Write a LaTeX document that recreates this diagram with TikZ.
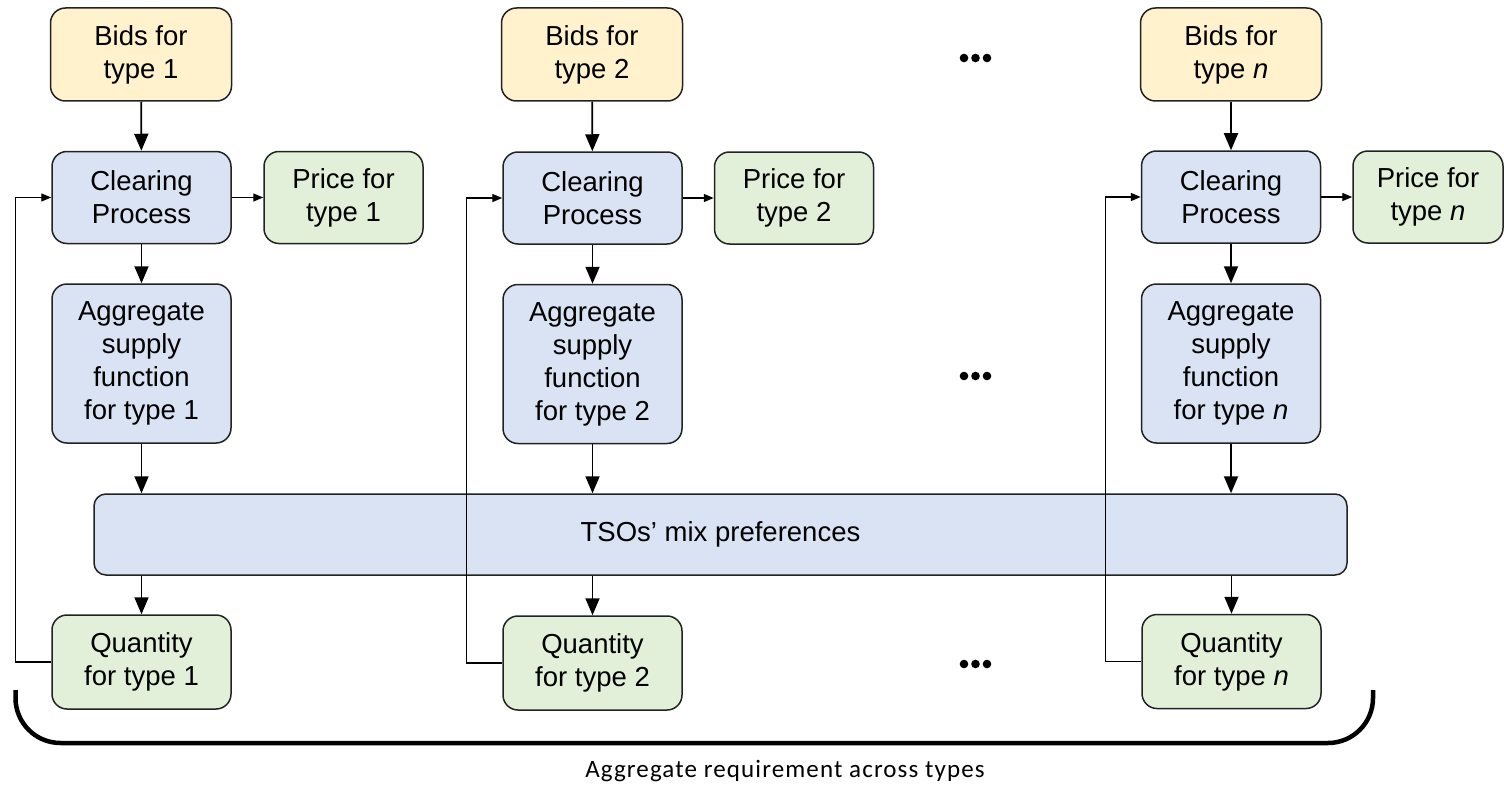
\documentclass[tikz,border=0pt]{standalone}
\usepackage{fontspec}
\setmainfont{Liberation Sans}
\newfontfamily\arialf{Liberation Sans}
\newfontfamily\calib[LetterSpace=4.5]{Carlito}
\usetikzlibrary{arrows.meta}
\definecolor{bidfill}{HTML}{FFF2CC}
\definecolor{procfill}{HTML}{DAE3F3}
\definecolor{outfill}{HTML}{E2F0D9}
\definecolor{edge}{HTML}{222222}
\begin{document}
\begin{tikzpicture}[x=1pt,y=-1pt,
  box/.style={draw=edge, line width=1.5pt, rounded corners=15pt, align=center, inner sep=0pt,
    font=\arialf\fontsize{27.5}{33}\selectfont},
  bidbox/.style={box, fill=bidfill, minimum width=181pt, minimum height=93pt},
  clrbox/.style={box, fill=procfill, minimum width=179pt, minimum height=92pt},
  pricebox/.style={box, fill=outfill, minimum width=159pt, minimum height=92pt},
  aggbox/.style={box, fill=procfill, minimum width=179pt, minimum height=159pt},
  qtybox/.style={box, fill=outfill, minimum width=179pt, minimum height=94pt},
  flow/.style={line width=1.8pt, -{Triangle[length=17pt,width=14pt]}},
  fb/.style={line width=1.4pt, -{Triangle[length=10pt,width=8pt]}},
  dotmark/.style={fill=black},
]
\useasboundingbox (0,0) rectangle (1504,789);

% column 1
\node[bidbox]   (b1) at (141,54.5)   {Bids for\\type 1};
\node[clrbox]   (c1) at (141.5,197.5) {Clearing\\Process};
\node[pricebox] (p1) at (343.5,197.5) {Price for\\type 1};
\node[aggbox]   (a1) at (141.5,363.5) {Aggregate\\supply\\function\\for type 1};
\node[qtybox]   (q1) at (141.5,662)   {Quantity\\for type 1};

% column 2
\node[bidbox]   (b2) at (592,54.5)    {Bids for\\type 2};
\node[clrbox]   (c2) at (592.5,198)   {Clearing\\Process};
\node[pricebox] (p2) at (794,198)     {Price for\\type 2};
\node[aggbox]   (a2) at (592.5,364)   {Aggregate\\supply\\function\\for type 2};
\node[qtybox]   (q2) at (592.5,663)   {Quantity\\for type 2};

% column n
\node[bidbox]   (bn) at (1231,54.5)   {Bids for\\type \textit{n}};
\node[clrbox]   (cn) at (1231,197)    {Clearing\\Process};
\node[pricebox, minimum width=150pt] (pn) at (1428,197) {Price for\\type \textit{n}};
\node[aggbox]   (an) at (1231,363.5)  {Aggregate\\supply\\function\\for type \textit{n}};
\node[qtybox]   (qn) at (1231.5,661.5) {Quantity\\for type \textit{n}};

% TSO bar
\node[box, fill=procfill, rounded corners=12pt, minimum width=1253pt, minimum height=81pt] (tso) at (720.5,534.5) {TSOs’ mix preferences};

% flows
\foreach \c in {1,2,n}{
  \draw[flow] (b\c) -- (c\c);
  \draw[flow] (c\c) -- (a\c);
  \draw[fb] (c\c) -- (p\c);
  \draw[flow] (a\c.south) -- (a\c.south |- tso.north);
  \draw[flow] (q\c.north |- tso.south) -- (q\c.north);
  \draw[fb] (q\c.west) -- ++(-36,0) |- (c\c.west);
}

% ellipses
\foreach \y in {58,376,664}{
  \fill[dotmark] (964,\y) circle (4.3pt) (975.5,\y) circle (4.3pt) (987,\y) circle (4.3pt);
}

% brace
\draw[line width=4.5pt, rounded corners=45pt] (15.5,690) -- (15.5,743) -- (1373,743) -- (1373,690);
\node[font=\calib\fontsize{25}{30}\selectfont] (lab) at (785,771) {Aggregate requirement across types};
\end{tikzpicture}
\end{document}
